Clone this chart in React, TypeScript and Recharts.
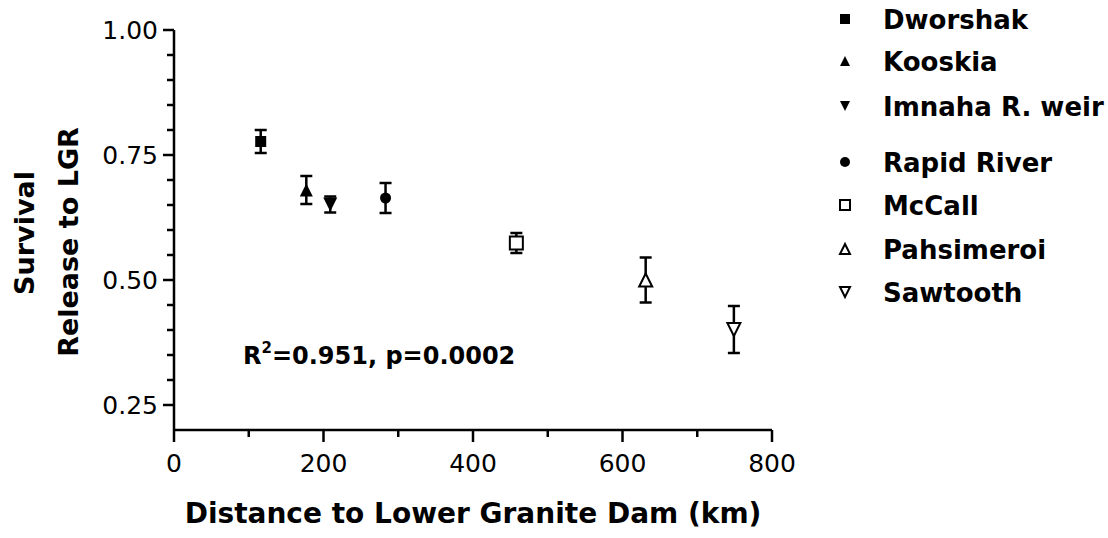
import { ScatterChart, Scatter, XAxis, YAxis, ErrorBar, Legend, Customized, Label } from 'recharts'

// hatchery release sites
const sites = ['Dworshak', 'Kooskia', 'Imnaha R. weir', 'Rapid River', 'McCall', 'Pahsimeroi', 'Sawtooth']
const distanceKm = [116, 177, 209, 283, 458, 631, 749]
const survival = [0.777, 0.68, 0.651, 0.664, 0.574, 0.5, 0.401]
const survivalErr = [0.023, 0.028, 0.016, 0.03, 0.02, 0.045, 0.047]

const xTicks = [0, 100, 200, 300, 400, 500, 600, 700, 800]
const xLabels = [0, 200, 400, 600, 800]
const yTicks = [0.25, 0.3, 0.35, 0.4, 0.45, 0.5, 0.55, 0.6, 0.65, 0.7, 0.75, 0.8, 0.85, 0.9, 0.95, 1.0]
const yLabels = [0.25, 0.5, 0.75, 1.0]

const annotation = '=0.951, p=0.0002'

// marker per site
const markers = ['square', 'triangle', 'triangleDown', 'circle', 'squareOpen', 'triangleOpen', 'triangleDownOpen']
const legendRows = [19, 61, 106, 162, 205, 249, 292]

const FONT = 'DejaVu Sans'

function Marker({ cx, cy, kind, size }: { cx: number; cy: number; kind: string; size: number }) {
  const open = kind.endsWith('Open')
  const fill = open ? '#fff' : '#000'
  const sw = open ? 2 : 0
  const h = size / 2
  if (kind.startsWith('square')) {
    return <rect x={cx - h} y={cy - h} width={size} height={size} fill={fill} stroke="#000" strokeWidth={sw} />
  }
  if (kind === 'circle') {
    return <circle cx={cx} cy={cy} r={h} fill={fill} />
  }
  if (kind.startsWith('triangleDown')) {
    return <polygon points={`${cx - h},${cy - h} ${cx + h},${cy - h} ${cx},${cy + h}`} fill={fill} stroke="#000" strokeWidth={sw} />
  }
  return <polygon points={`${cx},${cy - h} ${cx + h},${cy + h} ${cx - h},${cy + h}`} fill={fill} stroke="#000" strokeWidth={sw} />
}

const sizeFor = (kind: string) => {
  if (kind === 'circle' || kind === 'square') return 11
  if (kind === 'triangleDown') return 14
  return 13
}

const makeShape = (kind: string) => (props: any) => (
  <Marker cx={props.cx} cy={props.cy} kind={kind} size={sizeFor(kind)} />
)

const XTick = ({ x, y, payload }: any) => {
  const major = xLabels.includes(payload.value)
  return (
    <g>
      <line x1={x} y1={y} x2={x} y2={y + (major ? 12 : 7)} stroke="#000" strokeWidth={2.5} />
      {major && (
        <text x={x} y={y + 42} textAnchor="middle" fontFamily={FONT} fontSize={25} fill="#000">
          {payload.value}
        </text>
      )}
    </g>
  )
}

const YTick = ({ x, y, payload }: any) => {
  const major = yLabels.includes(payload.value)
  return (
    <g>
      <line x1={x - (major ? 11 : 7)} y1={y} x2={x} y2={y} stroke="#000" strokeWidth={2.5} />
      {major && (
        <text x={x - 16} y={y + 9} textAnchor="end" fontFamily={FONT} fontSize={25} fill="#000">
          {payload.value.toFixed(2)}
        </text>
      )}
    </g>
  )
}

const renderLegend = () => (
  <svg width={278} height={320}>
    {sites.map((name, i) => (
      <g key={name}>
        <Marker cx={15} cy={legendRows[i]} kind={markers[i]} size={10} />
        <text x={53} y={legendRows[i] + 9.5} fontFamily={FONT} fontWeight="bold" fontSize={26} fill="#000">
          {name}
        </text>
      </g>
    ))}
  </svg>
)

const XTitle = ({ viewBox }: any) => (
  <text x={viewBox.x + viewBox.width / 2} y={viewBox.y + 93} textAnchor="middle" fontFamily={FONT} fontWeight="bold" fontSize={28} fill="#000">
    Distance to Lower Granite Dam (km)
  </text>
)

const YTitle = () => (
  <g fontFamily={FONT} fontWeight="bold" fontSize={27} fill="#000">
    <text x={34} y={233} textAnchor="middle" transform="rotate(-90, 34, 233)">Survival</text>
    <text x={78} y={242} textAnchor="middle" transform="rotate(-90, 78, 242)">Release to LGR</text>
  </g>
)

const Annotation = () => (
  <text x={243} y={364} fontFamily={FONT} fontWeight="bold" fontSize={24} fill="#000">
    R<tspan dy={-11} fontSize={15}>2</tspan>
    <tspan dy={11}>{annotation}</tspan>
  </text>
)

export default function App() {
  return (
    <div style={{ position: 'absolute', left: 0, top: 0, background: '#fff' }}>
      <ScatterChart width={1108} height={538} margin={{ top: 30, right: 336, bottom: 48, left: 74 }}>
        <XAxis
          type="number"
          dataKey="x"
          domain={[0, 800]}
          ticks={xTicks}
          interval={0}
          tick={<XTick />}
          tickLine={false}
          tickSize={0}
          tickMargin={0}
          height={60}
          axisLine={{ stroke: '#000', strokeWidth: 2.5 }}
        >
          <Label content={<XTitle />} />
        </XAxis>
        <YAxis
          type="number"
          dataKey="y"
          domain={[0.2, 1.0]}
          ticks={yTicks}
          interval={0}
          tick={<YTick />}
          tickLine={false}
          tickSize={0}
          tickMargin={0}
          width={100}
          axisLine={{ stroke: '#000', strokeWidth: 2.5 }}
        >
          <Label content={<YTitle />} />
        </YAxis>
        {sites.map((name, i) => (
          <Scatter
            key={name}
            name={name}
            data={[{ x: distanceKm[i], y: survival[i], err: survivalErr[i] }]}
            fill="#000"
            shape={makeShape(markers[i])}
            isAnimationActive={false}
          >
            <ErrorBar dataKey="err" direction="y" width={6} stroke="#000" strokeWidth={2.5} isAnimationActive={false} />
          </Scatter>
        ))}
        <Legend
          layout="vertical"
          align="center"
          verticalAlign="middle"
          wrapperStyle={{ left: 830, top: 0, width: 278, height: 320 }}
          content={renderLegend}
        />
        <Customized component={Annotation} />
      </ScatterChart>
    </div>
  )
}
